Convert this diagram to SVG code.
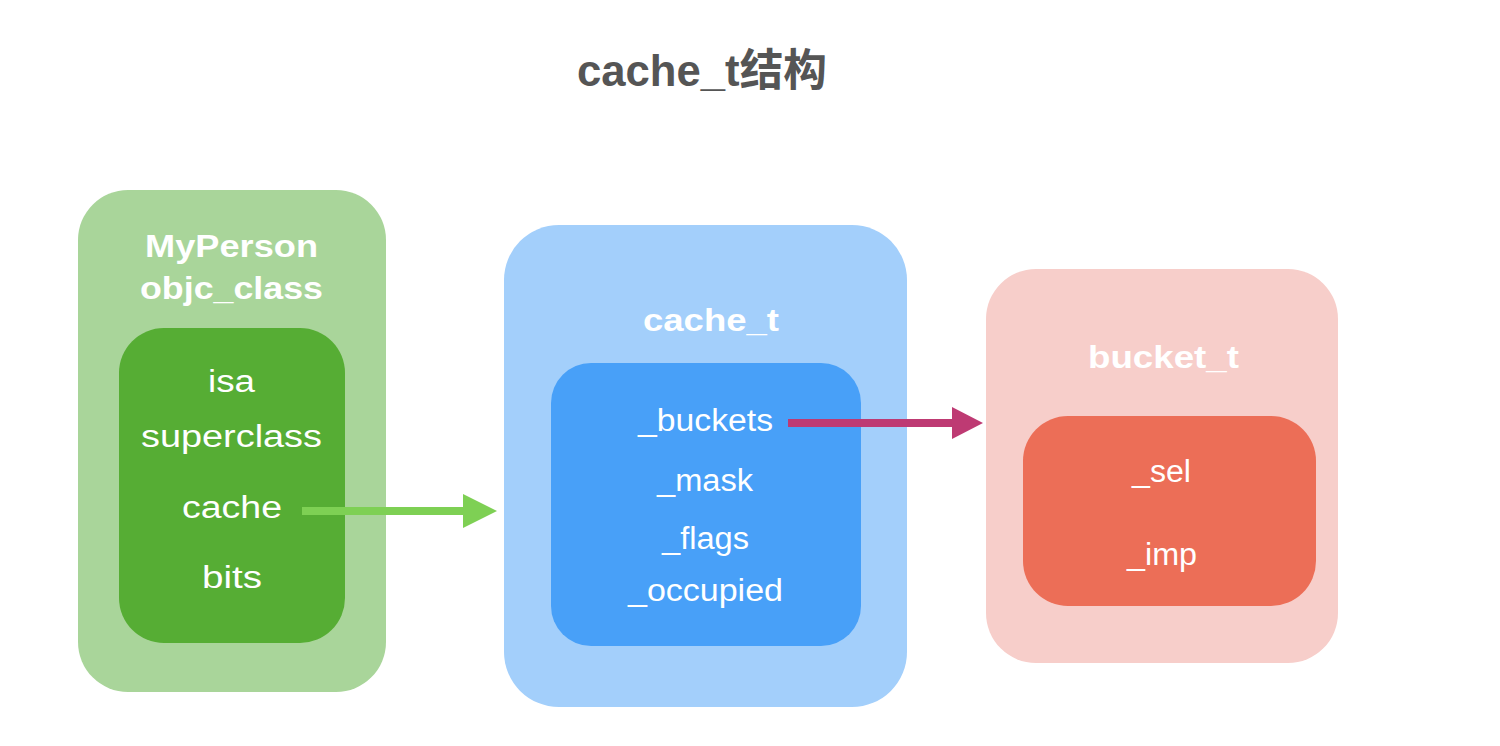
<svg xmlns="http://www.w3.org/2000/svg" width="1500" height="746" viewBox="0 0 1500 746">
  <style>
    .t{font-family:"Liberation Sans","Noto Sans CJK SC",Arial,sans-serif;fill:#ffffff;text-anchor:middle}
    .h{font-size:32px;font-weight:bold}
    .f{font-size:31px}
    .title{font-family:"Liberation Sans","Noto Sans CJK SC",Arial,sans-serif;font-size:44px;font-weight:bold;fill:#555555;text-anchor:middle}
  </style>
  <defs>
    <marker id="ahG" markerUnits="userSpaceOnUse" markerWidth="34" markerHeight="34" refX="0" refY="17" orient="auto">
      <path d="M0,0 L34,17 L0,34 Z" fill="#7ED054"/>
    </marker>
    <marker id="ahP" markerUnits="userSpaceOnUse" markerWidth="31" markerHeight="32" refX="0" refY="16" orient="auto">
      <path d="M0,0 L31,16 L0,32 Z" fill="#BE3A73"/>
    </marker>
  </defs>
  <rect width="1500" height="746" fill="#ffffff"/>
  <text class="title" x="702" y="86" textLength="250" lengthAdjust="spacingAndGlyphs">cache_t结构</text>

  <g id="node-objc-class">
    <rect x="78" y="190" width="308" height="502" rx="50" ry="50" fill="#A9D59A"/>
    <text class="t h" x="231.5" y="257" textLength="173" lengthAdjust="spacingAndGlyphs">MyPerson</text>
    <text class="t h" x="231.5" y="299" textLength="183" lengthAdjust="spacingAndGlyphs">objc_class</text>
    <rect x="119" y="328" width="226" height="315" rx="45" ry="45" fill="#56AD34"/>
    <text class="t f" x="231.5" y="392" textLength="47" lengthAdjust="spacingAndGlyphs">isa</text>
    <text class="t f" x="231.5" y="447" textLength="181" lengthAdjust="spacingAndGlyphs">superclass</text>
    <text class="t f" x="232" y="518" textLength="100" lengthAdjust="spacingAndGlyphs">cache</text>
    <text class="t f" x="232" y="588" textLength="60" lengthAdjust="spacingAndGlyphs">bits</text>
  </g>

  <g id="node-cache-t">
    <rect x="504" y="225" width="403" height="482" rx="55" ry="55" fill="#A3CFFB"/>
    <text class="t h" x="711" y="331" textLength="136" lengthAdjust="spacingAndGlyphs">cache_t</text>
    <rect x="551" y="363" width="310" height="283" rx="40" ry="40" fill="#48A0F8"/>
    <text class="t f" x="705.5" y="431" textLength="135" lengthAdjust="spacingAndGlyphs">_buckets</text>
    <text class="t f" x="705" y="491" textLength="96" lengthAdjust="spacingAndGlyphs">_mask</text>
    <text class="t f" x="705.5" y="549" textLength="87" lengthAdjust="spacingAndGlyphs">_flags</text>
    <text class="t f" x="705.5" y="601" textLength="155" lengthAdjust="spacingAndGlyphs">_occupied</text>
  </g>

  <g id="node-bucket-t">
    <rect x="986" y="269" width="352" height="394" rx="50" ry="50" fill="#F7CECA"/>
    <text class="t h" x="1163.5" y="368" textLength="151" lengthAdjust="spacingAndGlyphs">bucket_t</text>
    <rect x="1023" y="416" width="293" height="190" rx="45" ry="45" fill="#EC6E57"/>
    <text class="t f" x="1161.5" y="482" textLength="59" lengthAdjust="spacingAndGlyphs">_sel</text>
    <text class="t f" x="1162" y="565" textLength="70" lengthAdjust="spacingAndGlyphs">_imp</text>
  </g>

  <g id="connectors">
    <line x1="302" y1="511" x2="463" y2="511" stroke="#7ED054" stroke-width="8" marker-end="url(#ahG)"/>
    <line x1="788" y1="423" x2="952" y2="423" stroke="#BE3A73" stroke-width="8" marker-end="url(#ahP)"/>
  </g>
</svg>
